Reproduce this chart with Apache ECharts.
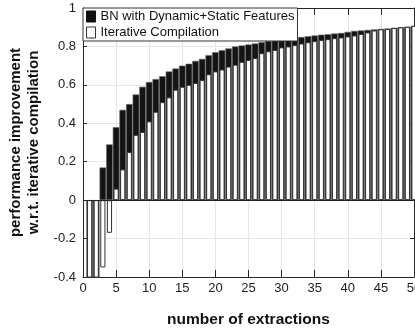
<!DOCTYPE html>
<html><head><meta charset="utf-8">
<script src="https://cdn.jsdelivr.net/npm/echarts@6/dist/echarts.min.js"></script>
<style>html,body{margin:0;padding:0;background:#fff}#c{width:415px;height:329px}</style>
</head><body><div id="c"></div>
<script>
const extractions = [1,2,3,4,5,6,7,8,9,10,11,12,13,14,15,16,17,18,19,20,21,22,23,24,25,26,27,28,29,30,31,32,33,34,35,36,37,38,39,40,41,42,43,44,45,46,47,48,49,50];
const bnValues = [-0.5,-0.5,0.17,0.29,0.38,0.47,0.50,0.55,0.59,0.615,0.63,0.645,0.67,0.685,0.70,0.71,0.725,0.735,0.755,0.77,0.78,0.79,0.80,0.805,0.81,0.815,0.822,0.828,0.832,0.836,0.84,0.845,0.849,0.853,0.857,0.861,0.864,0.867,0.87,0.876,0.881,0.883,0.886,0.889,0.891,0.893,0.897,0.900,0.903,0.907];
const icValues = [-0.5,-0.5,-0.35,-0.17,0.06,0.16,0.25,0.34,0.355,0.41,0.46,0.51,0.535,0.575,0.59,0.60,0.61,0.625,0.655,0.67,0.68,0.695,0.705,0.72,0.73,0.74,0.765,0.775,0.782,0.795,0.80,0.807,0.815,0.822,0.828,0.833,0.838,0.843,0.847,0.852,0.857,0.865,0.873,0.883,0.889,0.891,0.896,0.899,0.902,0.907];
const xTicks = [0,5,10,15,20,25,30,35,40,45,50];
const yTicks = [-0.4,-0.2,0,0.2,0.4,0.6,0.8,1];
const seriesNames = ['BN with Dynamic+Static Features','Iterative Compilation'];

const FONT = 'Liberation Sans';
const AX = '#262626';
const chart = echarts.init(document.getElementById('c'), null, {renderer:'canvas'});
const xBase = {
  type:'value', min:xTicks[0], max:xTicks[xTicks.length-1], interval:xTicks[1]-xTicks[0]
};
const yBase = {
  type:'value', min:yTicks[0], max:yTicks[yTicks.length-1], interval:0.2
};
chart.setOption({
  animation:false,
  textStyle:{fontFamily:FONT},
  grid:{left:83, right:1, top:8, bottom:52, containLabel:false, outerBoundsMode:'none'},
  legend:{
    left:83, top:8, orient:'vertical', itemWidth:9, itemHeight:11, itemGap:3,
    padding:[2,3,2,3], backgroundColor:'#fff', borderColor:'#333', borderWidth:1,
    selectedMode:false,
    textStyle:{fontFamily:FONT, fontSize:13, color:'#111'},
    data:[
      {name:seriesNames[0], icon:'rect', itemStyle:{color:'#111', borderColor:'#111', borderWidth:1}},
      {name:seriesNames[1], icon:'rect', itemStyle:{color:'#fff', borderColor:'#333', borderWidth:1}}
    ]
  },
  xAxis:[
    Object.assign({}, xBase, {
      position:'bottom',
      name:'number of extractions', nameLocation:'middle', nameGap:35,
      nameTextStyle:{fontFamily:FONT, fontSize:15.5, fontWeight:'bold', color:'#111'},
      axisLine:{show:true, onZero:false, lineStyle:{color:AX, width:1}},
      axisTick:{show:true, inside:true, length:7, lineStyle:{color:AX}},
      axisLabel:{show:true, margin:5, fontSize:13, color:'#222', fontFamily:FONT, hideOverlap:false},
      splitLine:{show:true, lineStyle:{color:'#e6e6e6', width:1}}
    }),
    Object.assign({}, xBase, {
      position:'top',
      axisLine:{show:true, onZero:false, lineStyle:{color:AX, width:1}},
      axisTick:{show:true, inside:true, length:7, lineStyle:{color:AX}},
      axisLabel:{show:false},
      splitLine:{show:false}
    })
  ],
  yAxis:[
    Object.assign({}, yBase, {
      position:'left',
      name:'performance improvement\nw.r.t. iterative compilation',
      nameLocation:'middle', nameGap:37,
      nameTextStyle:{fontFamily:FONT, fontSize:15, fontWeight:'bold', color:'#111', lineHeight:18},
      axisLine:{show:true, onZero:false, lineStyle:{color:AX, width:1}},
      axisTick:{show:true, inside:true, length:4, lineStyle:{color:AX}},
      axisLabel:{show:true, margin:7, fontSize:13, color:'#222', fontFamily:FONT},
      splitLine:{show:true, lineStyle:{color:'#e6e6e6', width:1}}
    }),
    Object.assign({}, yBase, {
      position:'right',
      axisLine:{show:true, onZero:false, lineStyle:{color:AX, width:1}},
      axisTick:{show:true, inside:true, length:4, lineStyle:{color:AX}},
      axisLabel:{show:false},
      splitLine:{show:false}
    })
  ],
  series:[
    {
      name:seriesNames[0], type:'bar', xAxisIndex:0, yAxisIndex:0,
      data:extractions.map((x,i)=>[x,bnValues[i]]),
      barWidth:'100%', clip:true,
      itemStyle:{color:'#141414', borderColor:'#6a6a6a', borderWidth:0.6},
      emphasis:{disabled:true}
    },
    {
      name:seriesNames[1], type:'bar', xAxisIndex:1, yAxisIndex:0,
      data:extractions.map((x,i)=>[x,icValues[i]]),
      barWidth:'78%', clip:true,
      itemStyle:{color:'#ffffff', borderColor:'#333', borderWidth:1},
      emphasis:{disabled:true},
      markLine:{
        silent:true, symbol:'none', animation:false,
        label:{show:false},
        lineStyle:{color:'#222', width:1, type:'solid'},
        data:[{yAxis:0}]
      }
    }
  ]
});
</script>
</body></html>
